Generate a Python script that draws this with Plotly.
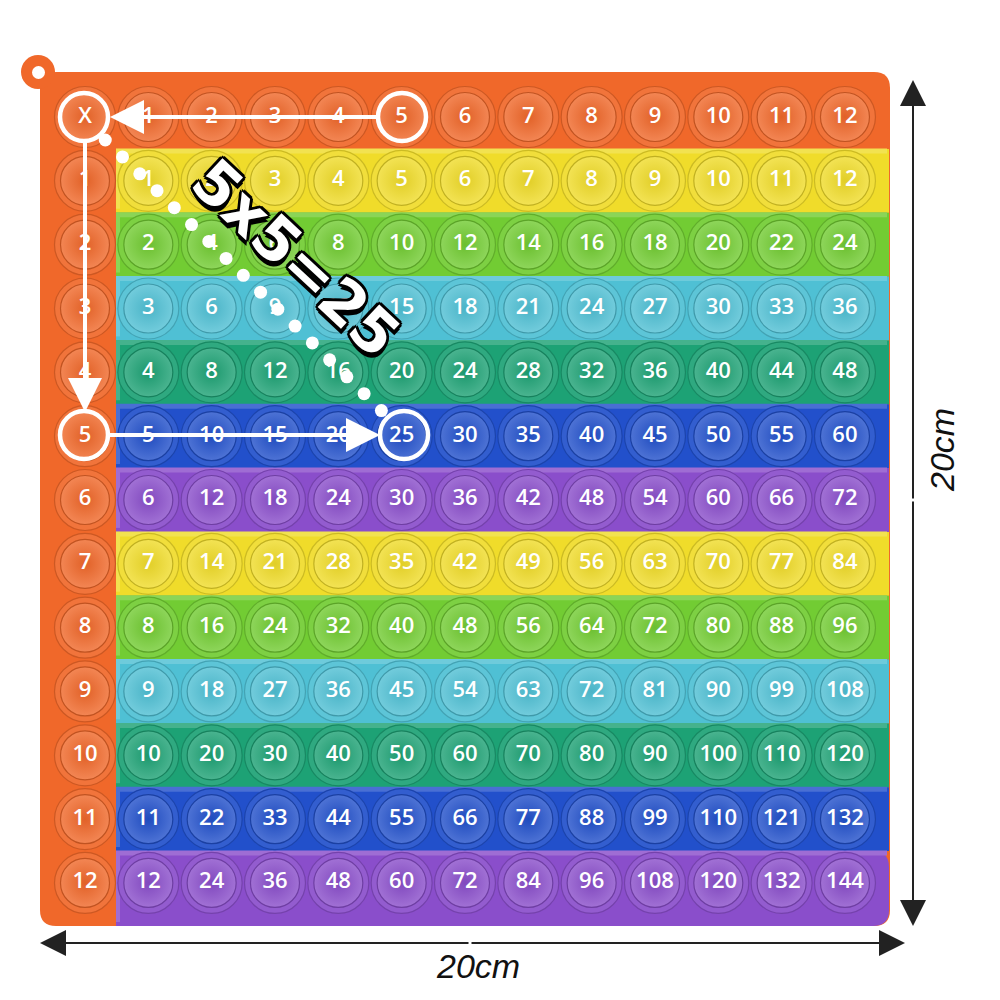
import numpy as np
import plotly.graph_objects as go

# header row / column labels and the product table
header_labels = ["X", "1", "2", "3", "4", "5", "6", "7", "8", "9", "10", "11", "12"]
row_factors = [1, 2, 3, 4, 5, 6, 7, 8, 9, 10, 11, 12]
table_rows = [
    [1, 2, 3, 4, 5, 6, 7, 8, 9, 10, 11, 12],
    [2, 4, 6, 8, 10, 12, 14, 16, 18, 20, 22, 24],
    [3, 6, 9, 12, 15, 18, 21, 24, 27, 30, 33, 36],
    [4, 8, 12, 16, 20, 24, 28, 32, 36, 40, 44, 48],
    [5, 10, 15, 20, 25, 30, 35, 40, 45, 50, 55, 60],
    [6, 12, 18, 24, 30, 36, 42, 48, 54, 60, 66, 72],
    [7, 14, 21, 28, 35, 42, 49, 56, 63, 70, 77, 84],
    [8, 16, 24, 32, 40, 48, 56, 64, 72, 80, 88, 96],
    [9, 18, 27, 36, 45, 54, 63, 72, 81, 90, 99, 108],
    [10, 20, 30, 40, 50, 60, 70, 80, 90, 100, 110, 120],
    [11, 22, 33, 44, 55, 66, 77, 88, 99, 110, 121, 132],
    [12, 24, 36, 48, 60, 72, 84, 96, 108, 120, 132, 144],
]
row_colours = ["#f0dc2a", "#72cc33", "#4fc0d4", "#1da275", "#2250cb", "#8a4ecb"] * 2
frame_colour = "#f0682a"

# pixel layout of the board (screen pixels; page has an 8px body margin)
OFF = 8
X0, DX = 85, 63.33
Y0, DY = 117, 63.83


def px(x):
    return (x - OFF) / 1000


def py(y):
    return 1 - (y - OFF) / 1000


def shade(col, f):
    r, g, b = (int(col[i:i + 2], 16) for i in (1, 3, 5))
    if f >= 0:
        r, g, b = (v + (255 - v) * f for v in (r, g, b))
    else:
        r, g, b = (v * (1 + f) for v in (r, g, b))
    return "#%02x%02x%02x" % (int(r), int(g), int(b))


def rounded_rect(x0, y0, x1, y1, rad):
    a, b, c, d = px(x0), py(y0), px(x1), py(y1)
    rx, ry = rad / 1000, rad / 1000
    return (f"M{a + rx},{b} L{c - rx},{b} Q{c},{b} {c},{b - ry} "
            f"L{c},{d + ry} Q{c},{d} {c - rx},{d} L{a + rx},{d} "
            f"Q{a},{d} {a},{d + ry} L{a},{b - ry} Q{a},{b} {a + rx},{b} Z")


def rect(x0, y0, x1, y1, colour, layer="below"):
    return dict(type="rect", xref="paper", yref="paper",
                x0=px(x0), x1=px(x1), y0=py(y1), y1=py(y0),
                fillcolor=colour, line=dict(width=0), layer=layer)


# cells: (column index, row index, label, colour)
cx, cy, labels, colours = [], [], [], []
for c, lab in enumerate(header_labels):
    cx.append(c); cy.append(0); labels.append(lab); colours.append(frame_colour)
for r, f in enumerate(row_factors, start=1):
    cx.append(0); cy.append(r); labels.append(str(f)); colours.append(frame_colour)
    for c, v in enumerate(table_rows[r - 1], start=1):
        cx.append(c); cy.append(r); labels.append(str(v)); colours.append(row_colours[r - 1])

fig = go.Figure()

# outer ring of each bubble
fig.add_trace(go.Scatter(
    x=cx, y=cy, mode="markers", hoverinfo="skip",
    marker=dict(size=61, color=[shade(c, 0.08) for c in colours],
                line=dict(width=1.2, color=[shade(c, -0.15) for c in colours])),
))
# inner dome
fig.add_trace(go.Scatter(
    x=cx, y=cy, mode="markers+text", text=labels, hoverinfo="skip",
    marker=dict(size=49, color=[shade(c, 0.2) for c in colours],
                gradient=dict(type="radial", color=[shade(c, -0.06) for c in colours]),
                line=dict(width=1.2, color=[shade(c, -0.2) for c in colours])),
    textfont=dict(family="Open Sans", size=22, color="white", weight=600),
    textposition="middle center",
))

# dotted diagonal from X to 25
t = np.linspace(0, 1, 17)
fig.add_trace(go.Scatter(
    x=0.32 + t * (4.68 - 0.32), y=0.36 + t * (4.6 - 0.36), mode="markers",
    hoverinfo="skip", marker=dict(size=13, color="white"),
))

shapes = []
# board
shapes.append(dict(type="path", xref="paper", yref="paper",
                   path=rounded_rect(40, 72, 890, 926, 16),
                   fillcolor=frame_colour, line=dict(width=0), layer="below"))
shapes.append(dict(type="circle", xref="paper", yref="paper",
                   x0=px(21), x1=px(55), y0=py(89), y1=py(55),
                   fillcolor=frame_colour, line=dict(width=0), layer="below"))
# colour strips
for r in range(1, 13):
    col = row_colours[r - 1]
    top = Y0 + (r - 0.5) * DY
    bot = 926 if r == 12 else Y0 + (r + 0.5) * DY
    if r == 12:
        shapes.append(dict(type="path", xref="paper", yref="paper",
                           path=rounded_rect(116, top, 889, bot, 16),
                           fillcolor=col, line=dict(width=0), layer="below"))
        shapes.append(rect(116, top, 150, bot, col))
    else:
        shapes.append(rect(116, top, 889, bot, col))
    shapes.append(dict(type="line", xref="paper", yref="paper",
                       x0=px(116), x1=px(887), y0=py(top + 2), y1=py(top + 2),
                       line=dict(color=shade(col, 0.18), width=5), layer="below"))
    shapes.append(dict(type="line", xref="paper", yref="paper",
                       x0=px(118), x1=px(118), y0=py(top), y1=py(bot - 4),
                       line=dict(color=shade(col, 0.18), width=4), layer="below"))
# key ring hole
shapes.append(dict(type="circle", xref="paper", yref="paper",
                   x0=px(32), x1=px(45), y0=py(79), y1=py(66),
                   fillcolor="white", line=dict(width=0)))

# white highlight rings
for x, y in [(84, 117), (402, 117), (84, 435), (404, 435)]:
    shapes.append(dict(type="circle", xref="paper", yref="paper",
                       x0=px(x - 24), x1=px(x + 24), y0=py(y + 24), y1=py(y - 24),
                       line=dict(color="white", width=4.5)))

annotations = []


def arrow(hx, hy, tx, ty, colour, width, size):
    annotations.append(dict(
        xref="paper", yref="paper", x=px(hx), y=py(hy), axref="pixel", ayref="pixel",
        ax=tx - hx, ay=ty - hy, text="", showarrow=True, arrowhead=2,
        arrowsize=size, arrowwidth=width, arrowcolor=colour,
    ))


arrow(110, 117, 378, 117, "white", 4, 1.7)
arrow(85, 412, 85, 141, "white", 4, 1.7)
arrow(380, 435, 108, 435, "white", 4, 1.7)

# dimension arrows
arrow(913, 80, 913, 500, "#222222", 2, 2.6)
arrow(913, 926, 913, 500, "#222222", 2, 2.6)
arrow(40, 943, 470, 943, "#222222", 2, 2.6)
arrow(905, 943, 470, 943, "#222222", 2, 2.6)

dim_font = dict(family="Liberation Sans", size=34, color="#111111", style="italic")
annotations.append(dict(xref="paper", yref="paper", x=px(942), y=py(450), text="20cm",
                        textangle=-90, showarrow=False, xanchor="center",
                        yanchor="middle", font=dim_font))
annotations.append(dict(xref="paper", yref="paper", x=px(478), y=py(966), text="20cm",
                        showarrow=False, xanchor="center", yanchor="middle",
                        font=dim_font))

outline = ", ".join(f"{dx}px {dy}px 0px #000000" for dx, dy in
                    [(3, 0), (-3, 0), (0, 3), (0, -3), (2, 2), (-2, -2), (2, -2), (-2, 2), (4, 4)])
annotations.append(dict(xref="paper", yref="paper", x=px(296), y=py(258), text="5x5=25",
                        textangle=43, showarrow=False, xanchor="center", yanchor="middle",
                        font=dict(family="DejaVu Sans", size=60, color="white",
                                  weight="bold", shadow=outline)))

fig.update_layout(
    width=1000, height=1000, margin=dict(l=0, r=0, t=0, b=0),
    paper_bgcolor="white", plot_bgcolor="white", showlegend=False,
    shapes=shapes, annotations=annotations,
    xaxis=dict(range=[-(X0 - OFF) / DX, (1000 - (X0 - OFF)) / DX], visible=False),
    yaxis=dict(range=[(1000 - (Y0 - OFF)) / DY, -(Y0 - OFF) / DY], visible=False),
)

fig.write_html("out.html")
